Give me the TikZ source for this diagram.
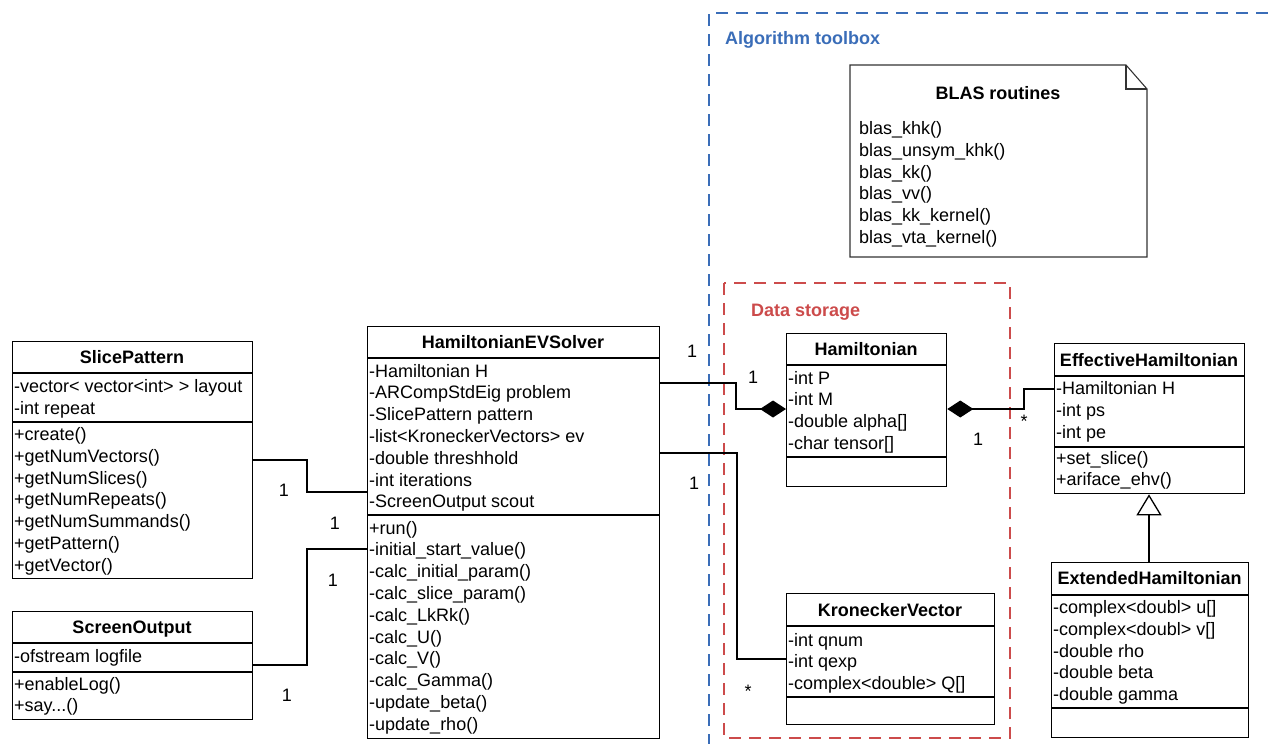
\documentclass[tikz,border=0pt]{standalone}
\usepackage{fontspec}
\setmainfont{Liberation Sans}
\usetikzlibrary{arrows.meta}
\definecolor{tbblue}{HTML}{3A6DB8}
\definecolor{dsred}{HTML}{CC4B4B}
\newcommand\dfont{\fontsize{18}{21.8}\selectfont}
\tikzset{
  box/.style={draw=black, line width=1.3pt, inner sep=0pt, anchor=north west},
  sepline/.style={line width=1.3pt},
  ctitle/.style={font=\dfont\bfseries, anchor=base, inner sep=0pt},
  row/.style={font=\dfont, anchor=base west, inner sep=0pt},
  mult/.style={font=\dfont, inner sep=0pt},
  link/.style={line width=1.3pt},
  grouplabel/.style={font=\dfont\bfseries, anchor=base west, inner sep=0pt},
  groupline/.style={line width=1.3pt, dash pattern=on 12pt off 8pt},
  notebox/.style={line width=1.1pt, draw=black!80},
  composend/.style={-{Diamond[length=26pt,width=17pt]}},
  composstart/.style={{Diamond[length=26pt,width=17pt]}-},
  inherit/.style={-{Triangle[open,length=21pt,width=25pt]}}
}
% name, x1, y1, x2, y2, header bottom, attribute bottom
\newcommand\umlbox[7]{%
  \node[box, minimum width={(#4-#2)*1pt}, minimum height={(#5-#3)*1pt}] (#1) at (#2,#3) {};
  \draw[sepline] (#2,#6) -- (#4,#6);
  \draw[sepline] (#2,#7) -- (#4,#7);
}
% prefix, x, first baseline, list
\newcommand\rows[4]{%
  \foreach \t [count=\i] in {#4} {\node[row] (#1-\i) at (#2,{#3+(\i-1)*21.8}) {\t};}
}
\begin{document}
\begin{tikzpicture}[x=1pt,y=-1pt]
\useasboundingbox (0,0) rectangle (1268,744);

% groups
\draw[groupline, tbblue] (1268,13) -- (709,13) -- (709,744);
\node[grouplabel, text=tbblue] (toolboxlabel) at (725,44) {Algorithm toolbox};
\draw[groupline, dsred] (724,283) rectangle (1010,738);
\node[grouplabel, text=dsred] (storagelabel) at (751,316) {Data storage};

% note
\draw[notebox] (850,65) -- (1126,65) -- (1147,89) -- (1147,257) -- (850,257) -- cycle;
\draw[notebox] (1126,65) |- (1147,89);
\node[ctitle] (blas-t) at (998,99) {BLAS routines};
\rows{blas}{859}{134.5}{blas\_khk(),blas\_unsym\_khk(),blas\_kk(),blas\_vv(),blas\_kk\_kernel(),blas\_vta\_kernel()}

% SlicePattern
\umlbox{slice}{12}{341}{252}{578}{373}{422}
\node[ctitle] (slice-t) at (132,363) {SlicePattern};
\rows{slicea}{14}{392.5}{-vector< vector<int> > layout,-int repeat}
\rows{slicem}{14}{440.5}{+create(),+getNumVectors(),+getNumSlices(),+getNumRepeats(),+getNumSummands(),+getPattern(),+getVector()}

% ScreenOutput
\umlbox{screen}{12}{611}{252}{719}{643}{672}
\node[ctitle] (screen-t) at (132,633) {ScreenOutput};
\node[row] (screena-1) at (14,662) {-ofstream logfile};
\node[row] (screenm-1) at (14,690) {+enableLog()};
\node[row] (screenm-2) at (14,711.8) {+say...()};

% HamiltonianEVSolver
\umlbox{solver}{367}{326}{659}{738}{358}{515}
\node[ctitle] (solver-t) at (513,348) {HamiltonianEVSolver};
\rows{solvera}{369}{377}{-Hamiltonian H,-ARCompStdEig problem,-SlicePattern pattern,-list<KroneckerVectors> ev,-double threshhold,-int iterations,-ScreenOutput scout}
\rows{solverm}{369}{534}{+run(),-initial\_start\_value(),-calc\_initial\_param(),-calc\_slice\_param(),-calc\_LkRk(),-calc\_U(),-calc\_V(),-calc\_Gamma(),-update\_beta(),-update\_rho()}

% Hamiltonian
\umlbox{ham}{786}{333}{946}{486}{365}{457}
\node[ctitle] (ham-t) at (866,355) {Hamiltonian};
\rows{hama}{788}{384}{-int P,-int M,-double alpha[],-char tensor[]}

% EffectiveHamiltonian
\umlbox{eff}{1054}{343}{1244}{493}{376}{447}
\node[ctitle] (eff-t) at (1149,366) {EffectiveHamiltonian};
\rows{effa}{1056}{394.5}{-Hamiltonian H,-int ps,-int pe}
\rows{effm}{1056}{464}{+set\_slice(),+ariface\_ehv()}

% ExtendedHamiltonian
\umlbox{ext}{1051}{562}{1248}{737}{595}{708}
\node[ctitle] (ext-t) at (1149.5,584.5) {ExtendedHamiltonian};
\rows{exta}{1053}{613.5}{-complex<doubl> u[],-complex<doubl> v[],-double rho,-double beta,-double gamma}

% KroneckerVector
\umlbox{kron}{786}{593}{994}{724}{626}{697}
\node[ctitle] (kron-t) at (890,616) {KroneckerVector};
\rows{krona}{788}{646}{-int qnum,-int qexp,-complex<double> Q[]}

% connectors
\draw[link] (slice.east |- 0,460) -- (307,460) |- (solver.west |- 0,492);
\draw[link] (screen.east |- 0,665) -- (307,665) |- (solver.west |- 0,549);
\draw[link, composend] (solver.east |- 0,383) -- (736,383) |- (ham.west |- 0,409);
\draw[link, composstart] (ham.east |- 0,409) -- (1024,409) |- (eff.west |- 0,389);
\draw[link] (solver.east |- 0,453) -- (737,453) |- (kron.west |- 0,659);
\draw[link, inherit] (ext.north -| 1149,0) -- (eff.south -| 1149,0);

% multiplicities
\node[mult] (m1) at (284,490) {1};
\node[mult] (m2) at (335,523) {1};
\node[mult] (m3) at (333,580) {1};
\node[mult] (m4) at (287,695) {1};
\node[mult] (m5) at (692,351) {1};
\node[mult] (m6) at (753,377) {1};
\node[mult] (m7) at (694,483) {1};
\node[mult] (m8) at (748,691) {*};
\node[mult] (m9) at (978,439) {1};
\node[mult] (m10) at (1024,421) {*};
\end{tikzpicture}
\end{document}
